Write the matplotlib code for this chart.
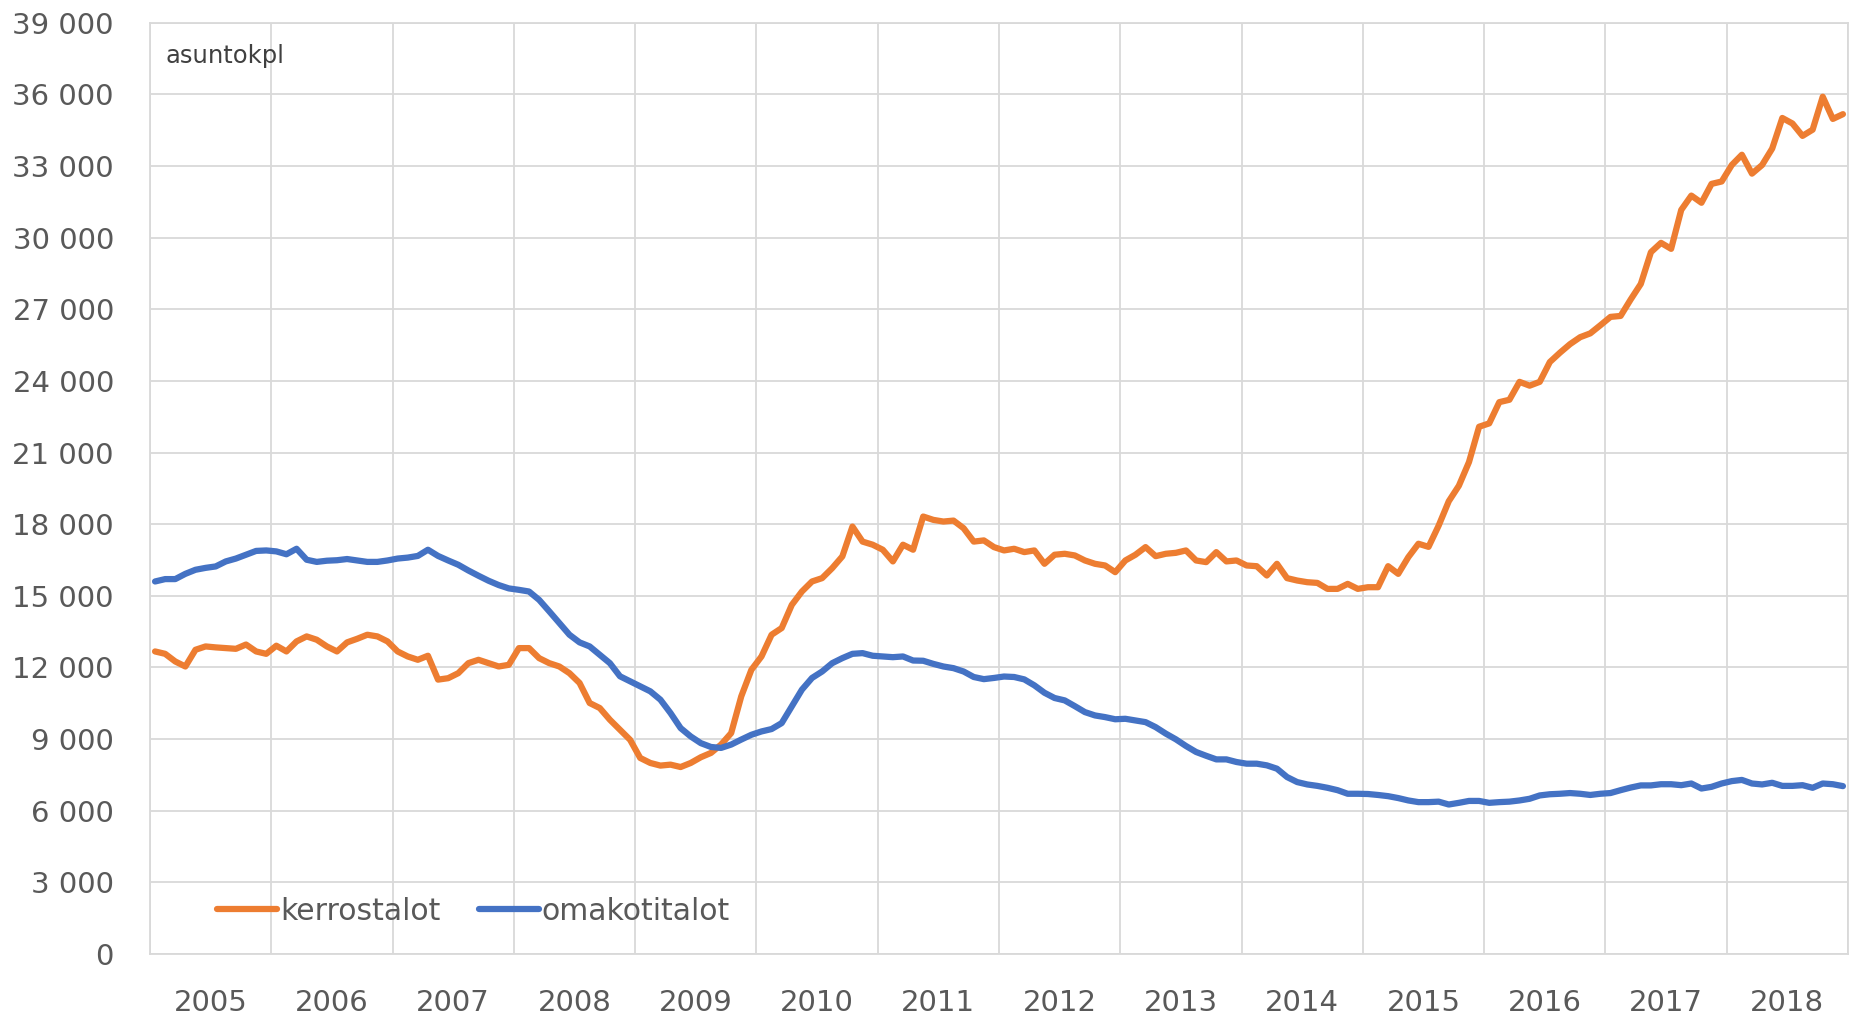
"""
Asuntokanta: kerrostalot vs omakotitalot, kuukausittain 2005-2018
"""

import numpy as np
import matplotlib.pyplot as plt
from matplotlib.ticker import FixedLocator, FuncFormatter

START_YEAR = 2005
YEARS = list(range(2005, 2019))

# kuukausiarvot (asuntokpl), tammikuu 2005 - joulukuu 2018
kerrostalot = [
    12670, 12570, 12250, 12040, 12740, 12880, 12840, 12810, 12780, 12960, 12670, 12570,  # 2005
    12910, 12670, 13090, 13300, 13160, 12880, 12670, 13050, 13200, 13370, 13300, 13090,  # 2006
    12670, 12460, 12320, 12490, 11490, 11550, 11760, 12180, 12320, 12180, 12040, 12110,  # 2007
    12810, 12810, 12390, 12180, 12040, 11760, 11350, 10510, 10300, 9810, 9390, 8970,     # 2008
    8210, 8000, 7890, 7930, 7830, 8000, 8240, 8420, 8770, 9250, 10790, 11900,            # 2009
    12460, 13370, 13650, 14620, 15180, 15600, 15740, 16160, 16650, 17900, 17270, 17140,  # 2010
    16930, 16440, 17140, 16930, 18320, 18180, 18110, 18150, 17830, 17270, 17320, 17040,  # 2011
    16900, 16970, 16830, 16900, 16340, 16720, 16760, 16690, 16480, 16340, 16270, 15990,  # 2012
    16480, 16720, 17040, 16660, 16760, 16800, 16900, 16480, 16410, 16830, 16440, 16480,  # 2013
    16270, 16240, 15850, 16340, 15740, 15640, 15570, 15540, 15290, 15290, 15500, 15290,  # 2014
    15360, 15360, 16240, 15920, 16620, 17180, 17050, 17940, 18960, 19610, 20600, 22080,  # 2015
    22220, 23110, 23210, 23960, 23800, 23960, 24790, 25180, 25540, 25830, 25990, 26330,  # 2016
    26680, 26720, 27410, 28060, 29390, 29780, 29530, 31160, 31760, 31460, 32250, 32350,  # 2017
    33040, 33470, 32680, 33040, 33730, 35010, 34780, 34260, 34520, 35900, 34970, 35170,  # 2018
]

omakotitalot = [
    15600, 15700, 15700, 15920, 16090, 16170, 16230, 16440, 16560, 16720, 16880, 16900,  # 2005
    16860, 16740, 16970, 16510, 16420, 16470, 16490, 16540, 16480, 16420, 16420, 16480,  # 2006
    16560, 16600, 16670, 16930, 16670, 16480, 16300, 16060, 15840, 15630, 15450, 15310,  # 2007
    15250, 15180, 14830, 14350, 13860, 13370, 13050, 12880, 12530, 12180, 11630, 11420,  # 2008
    11210, 11000, 10650, 10090, 9460, 9110, 8830, 8670, 8630, 8770, 8980, 9180,          # 2009
    9320, 9420, 9670, 10370, 11070, 11560, 11830, 12180, 12390, 12570, 12600, 12490,     # 2010
    12460, 12430, 12460, 12290, 12280, 12150, 12040, 11970, 11830, 11600, 11510, 11560,  # 2011
    11620, 11600, 11500, 11250, 10940, 10720, 10620, 10380, 10130, 9990, 9920, 9830,     # 2012
    9850, 9780, 9710, 9500, 9230, 8990, 8710, 8460, 8300, 8150, 8150, 8040,              # 2013
    7970, 7970, 7900, 7760, 7410, 7200, 7100, 7040, 6960, 6860, 6710, 6710,              # 2014
    6700, 6660, 6610, 6530, 6430, 6360, 6360, 6380, 6260, 6330, 6410, 6410,              # 2015
    6330, 6360, 6380, 6430, 6500, 6640, 6690, 6710, 6740, 6710, 6660, 6710,              # 2016
    6740, 6860, 6970, 7060, 7060, 7110, 7110, 7070, 7140, 6930, 7000, 7140,              # 2017
    7240, 7290, 7140, 7100, 7170, 7040, 7040, 7070, 6960, 7140, 7110, 7030,              # 2018
]

ORANGE = "#ED7D31"
BLUE = "#4472C4"
GRID = "#d9d9d9"
TEXT = "#595959"


def main():
    fig = plt.figure(figsize=(18.6, 10.18), dpi=100)
    ax = fig.add_axes([150 / 1860, 64 / 1018, 1698 / 1860, 931.3 / 1018])

    # kuukausi keskelle kategoriaansa
    x = START_YEAR + (np.arange(len(kerrostalot)) + 0.5) / 12

    ax.plot(x, kerrostalot, color=ORANGE, lw=4.5, label="kerrostalot",
            solid_capstyle="round", solid_joinstyle="round", zorder=3)
    ax.plot(x, omakotitalot, color=BLUE, lw=4.5, label="omakotitalot",
            solid_capstyle="round", solid_joinstyle="round", zorder=3)

    ax.set_xlim(START_YEAR, YEARS[-1] + 1)
    ax.set_ylim(0, 39000)

    # vuosirajat gridiksi, vuosiluvut keskelle
    ax.xaxis.set_major_locator(FixedLocator(YEARS + [YEARS[-1] + 1]))
    ax.xaxis.set_minor_locator(FixedLocator([y + 0.5 for y in YEARS]))
    ax.xaxis.set_major_formatter(FuncFormatter(lambda v, p: ""))
    ax.xaxis.set_minor_formatter(FuncFormatter(lambda v, p: f"{int(v)}"))
    ax.set_yticks(np.arange(0, 39001, 3000))
    ax.yaxis.set_major_formatter(FuncFormatter(lambda v, p: f"{v:,.0f}".replace(",", " ")))

    ax.tick_params(axis="x", which="both", length=0, pad=25, labelsize=21, labelcolor=TEXT)
    ax.tick_params(axis="y", length=0, pad=26, labelsize=21, labelcolor=TEXT)

    ax.grid(True, which="major", color=GRID, lw=1.3, zorder=0)
    for s in ax.spines.values():
        s.set_color(GRID)
        s.set_linewidth(1.3)

    ax.text(0.0094, 0.9567, "asuntokpl", transform=ax.transAxes, fontsize=17.5,
            color="#404040", va="baseline", ha="left")

    leg = ax.legend(loc="center left", bbox_to_anchor=(0.0395, 0.046), ncol=2,
                    frameon=False, fontsize=21.5, handlelength=2.0, handletextpad=0.1,
                    columnspacing=1.3, borderpad=0, borderaxespad=0)
    for t in leg.get_texts():
        t.set_color(TEXT)

    fig.savefig("out.png", dpi=100, facecolor="white")
    plt.close(fig)


if __name__ == "__main__":
    main()
